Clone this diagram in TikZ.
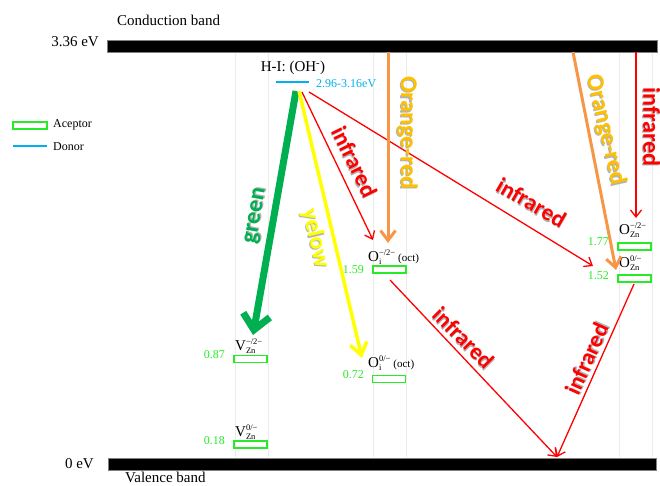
\documentclass[tikz,border=0pt]{standalone}
\usepackage{fontspec}
\setmainfont{Liberation Serif}
\newfontfamily\calfont{Carlito}
\usetikzlibrary{arrows.meta}
\definecolor{accgreen}{RGB}{40,235,40}
\definecolor{donblue}{RGB}{0,176,240}
\definecolor{grn}{RGB}{0,176,80}
\definecolor{yel}{RGB}{255,255,0}
\definecolor{orng}{RGB}{247,150,70}
\definecolor{gold}{RGB}{255,192,0}
\definecolor{ired}{RGB}{255,0,0}
\definecolor{guidegray}{RGB}{236,236,236}
\newcommand\shd[1]{\makebox[0pt][l]{\kern1.2pt\raisebox{-1.2pt}{\color{black!30}#1}}#1}
\newcommand\sm[1]{\mbox{\fontsize{8.5}{8.5}\selectfont #1}}
\newcommand\dft[3]{$\mbox{#1}^{\sm{#2}}_{\sm{#3}}$}
\begin{document}
\begin{tikzpicture}[x=1pt,y=-1pt,
  guide/.style={draw=guidegray, line width=0.7pt},
  band/.style={fill=black, draw=black!50, line width=0.6pt},
  accbox/.style={draw=accgreen, line width=1.5pt, minimum width=33pt, minimum height=7pt, inner sep=0pt},
  num/.style={text=accgreen, font=\fontsize{12}{12}\selectfont, anchor=east, inner sep=0pt},
  lbl/.style={font=\fontsize{15}{15}\selectfont, inner sep=0pt},
  deflbl/.style={font=\fontsize{15}{15}\selectfont, anchor=base west, inner sep=0pt},
  smlbl/.style={font=\fontsize{12}{12}\selectfont, anchor=west, inner sep=0pt},
  emis/.style={font=\calfont\bfseries\fontsize{23}{23}\selectfont, inner sep=0pt},
  bigemis/.style={font=\calfont\bfseries\fontsize{24}{24}\selectfont, inner sep=0pt},
  redarr/.style={draw=ired, line width=1.3pt, -{Straight Barb[length=7pt,width=11pt]}},
  orarr/.style={draw=orng, line width=3pt, -{Straight Barb[length=10pt,width=15pt]}},
]
\useasboundingbox (0,0) rectangle (660,485);
% faint guide lines
\foreach \gx in {235,268,373,406,619,652}
  \draw[guide] (\gx,52) -- (\gx,457);
% bands
\node[band, minimum width=550pt, minimum height=12pt, inner sep=0pt, anchor=north west] (cb) at (107,40) {};
\node[band, minimum width=548pt, minimum height=12pt, inner sep=0pt, anchor=north west] (vb) at (108,458) {};
\node[lbl, anchor=west] (cbt) at (117,20) {Conduction band};
\node[lbl, anchor=east] (e336) at (99,42) {3.36 eV};
\node[lbl, anchor=east] (e0) at (94,464) {0 eV};
\node[lbl, anchor=west] (vbt) at (125,477.5) {Valence band};
% legend
\node[draw=accgreen, line width=1.5pt, minimum width=34pt, minimum height=7pt, inner sep=0pt] (legacc) at (30,125.5) {};
\node[smlbl] (legacct) at (53,125) {Aceptor};
\coordinate (legd0) at (13,146);
\coordinate (legd1) at (47,146);
\draw[donblue, line width=1.3pt] (legd0) -- (legd1);
\node[smlbl] (legdt) at (53,147) {Donor};
% donor
\node[lbl] (hi) at (293,68) {H-I: (OH\textsuperscript{-})};
\coordinate (dl0) at (276,82);
\coordinate (dl1) at (309,82);
\draw[donblue, line width=1.3pt] (dl0) -- (dl1);
\node[smlbl, text=donblue] (dval) at (316,84) {2.96-3.16eV};
% acceptor boxes
\node[accbox] (bv1) at (250.5,359) {};
\node[accbox] (bv0) at (250.5,444.5) {};
\node[accbox] (bo0) at (389,379) {};
\node[accbox] (bo1) at (389.5,269.5) {};
\node[accbox] (bz1) at (634.5,246.5) {};
\node[accbox] (bz0) at (634.5,278.5) {};
\node[num] (n087) at (225,355) {0.87};
\node[num] (n018) at (225,441) {0.18};
\node[num] (n072) at (364,375) {0.72};
\node[num] (n159) at (364,270) {1.59};
\node[num] (n177) at (609,242) {1.77};
\node[num] (n152) at (609,276) {1.52};
\node[deflbl] (lv1) at (235,350) {\dft{V}{−/2−}{Zn}};
\node[deflbl] (lv0) at (235,436) {\dft{V}{0/−}{Zn}};
\node[deflbl] (lo0) at (368,367) {\dft{O}{0/−}{i}\,{\fontsize{11}{11}\selectfont(oct)}};
\node[deflbl] (lo1) at (368,261) {\dft{O}{−/2−}{i}\,{\fontsize{11}{11}\selectfont(oct)}};
\node[deflbl] (lz1) at (619,234) {\dft{O}{−/2−}{Zn}};
\node[deflbl] (lz0) at (619,267) {\dft{O}{0/−}{Zn}};
% arrow end points
\coordinate (g0) at (296,91);
\coordinate (g1) at (253,335);
\coordinate (y0) at (299,91);
\coordinate (y1) at (362,358);
\coordinate (r10) at (302,92);
\coordinate (r11) at (373,240);
\coordinate (r20) at (309,92);
\coordinate (r21) at (593,266);
\coordinate (o10) at (388,52);
\coordinate (o11) at (388,243);
\coordinate (o20) at (573,52);
\coordinate (o21) at (616,270);
\coordinate (r30) at (636,52);
\coordinate (r31) at (636,218);
\coordinate (r40) at (390,280);
\coordinate (r50) at (634,284);
\coordinate (vbp) at (557,457);
% arrows
\draw[grn, line width=7pt, -{Straight Barb[length=15pt,width=27pt]}] (g0) -- (g1);
\draw[yel, line width=3.5pt, -{Straight Barb[length=12pt,width=17pt]}] (y0) -- (y1);
\draw[redarr] (r10) -- (r11);
\draw[redarr] (r20) -- (r21);
\draw[orarr] (o10) -- (o11);
\draw[orarr] (o20) -- (o21);
\draw[redarr] (r30) -- (r31);
\draw[redarr] (r40) -- (vbp);
\draw[redarr] (r50) -- (vbp);
% emission labels
\node[bigemis, text=grn, rotate=80] (tg) at (257,216) {\shd{green}};
\node[bigemis, text=yel, rotate=-77] (ty) at (315,238) {\shd{yelow}};
\node[emis, text=ired, rotate=-64] (ti1) at (354,162) {\shd{infrared}};
\node[bigemis, text=gold, rotate=-90] (to1) at (407,133) {\shd{Orange-red}};
\node[emis, text=ired, rotate=-30] (ti2) at (531,203) {\shd{infrared}};
\node[bigemis, text=gold, rotate=-77] (to2) at (605,130) {\shd{Orange-red}};
\node[bigemis, text=ired, rotate=-90] (ti3) at (651,127) {\shd{infrared}};
\node[emis, text=ired, rotate=-45] (ti4) at (463,338) {\shd{infrared}};
\node[emis, text=ired, rotate=66] (ti5) at (587,359) {\shd{infrared}};
\end{tikzpicture}
\end{document}
